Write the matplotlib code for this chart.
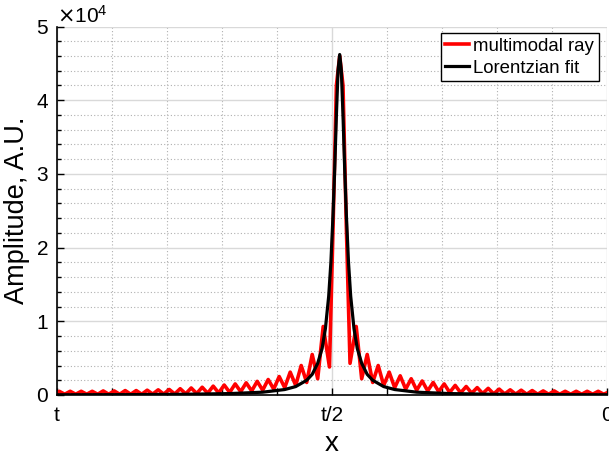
import matplotlib.pyplot as plt
from matplotlib.ticker import MultipleLocator

plt.rcParams['font.family'] = ['Liberation Sans', 'DejaVu Sans']

# x axis: 50 units from t (left) to 0 (right)
tick_pos = [0, 25, 50]
tick_labels = ['t', 't/2', '0']

# multimodal ray, amplitude in units of 1e4
ray_x = [0.0, 0.2, 0.7, 1.2, 1.7, 2.2, 2.7, 3.2, 3.7, 4.2, 4.7, 5.2, 5.7, 6.2, 6.7,
         7.2, 7.7, 8.2, 8.7, 9.2, 9.7, 10.2, 10.7, 11.2, 11.7, 12.2, 12.7, 13.2, 13.7,
         14.2, 14.7, 15.2, 15.7, 16.2, 16.7, 17.2, 17.7, 18.2, 18.7, 19.2, 19.7, 20.2,
         20.7, 21.2, 21.7, 22.2, 22.7, 23.2, 23.7, 24.2, 24.77, 25.1, 25.4, 25.7, 26.0,
         26.3, 26.64, 27.2, 27.7, 28.2, 28.7, 29.2, 29.7, 30.2, 30.7, 31.2, 31.7, 32.2,
         32.7, 33.2, 33.7, 34.2, 34.7, 35.2, 35.7, 36.2, 36.7, 37.2, 37.7, 38.2, 38.7,
         39.2, 39.7, 40.2, 40.7, 41.2, 41.7, 42.2, 42.7, 43.2, 43.7, 44.2, 44.7, 45.2,
         45.7, 46.2, 46.7, 47.2, 47.7, 48.2, 48.7, 49.2, 49.7, 50.0]
ray_y = [0.02, 0.05, 0.01, 0.05, 0.01, 0.05, 0.01, 0.05, 0.01, 0.055, 0.01, 0.055, 0.01,
         0.06, 0.01, 0.06, 0.01, 0.065, 0.012, 0.07, 0.012, 0.075, 0.014, 0.085, 0.016,
         0.095, 0.02, 0.105, 0.024, 0.12, 0.028, 0.135, 0.035, 0.15, 0.045, 0.165, 0.055,
         0.185, 0.065, 0.21, 0.08, 0.25, 0.10, 0.31, 0.13, 0.40, 0.17, 0.55, 0.22, 0.93,
         0.38, 2.3, 4.2, 4.6, 4.2, 2.3, 0.43, 0.93, 0.22, 0.55, 0.17, 0.40, 0.13, 0.31,
         0.10, 0.26, 0.08, 0.22, 0.065, 0.19, 0.055, 0.17, 0.045, 0.15, 0.035, 0.13, 0.03,
         0.115, 0.025, 0.10, 0.02, 0.09, 0.016, 0.08, 0.014, 0.07, 0.012, 0.065, 0.01,
         0.06, 0.01, 0.055, 0.01, 0.055, 0.01, 0.05, 0.01, 0.05, 0.01, 0.05, 0.01, 0.05,
         0.01, 0.03]

# Lorentzian fit, amplitude in units of 1e4
fit_x = [0.0, 6.7, 11.7, 15.7, 18.7, 20.7, 21.7, 22.7, 23.2, 23.7, 24.1, 24.4, 24.7,
         24.9, 25.1, 25.25, 25.4, 25.55, 25.7, 25.85, 26.0, 26.15, 26.3, 26.5, 26.7,
         27.0, 27.3, 27.7, 28.2, 28.7, 29.7, 30.7, 32.7, 35.7, 39.7, 44.7, 50.0]
fit_y = [0.003, 0.005, 0.01, 0.019, 0.038, 0.074, 0.114, 0.20, 0.28, 0.43, 0.63,
         0.90, 1.34, 1.80, 2.46, 3.09, 3.80, 4.40, 4.62, 4.40, 3.80, 3.09, 2.46, 1.80,
         1.34, 0.90, 0.63, 0.43, 0.28, 0.20, 0.114, 0.074, 0.038, 0.019, 0.01, 0.005,
         0.003]

fig = plt.figure(figsize=(6.09, 4.61), dpi=100)
ax = fig.add_axes([0.0936, 0.1432, 0.9031, 0.7993])

ax.plot(ray_x, [v * 1e4 for v in ray_y], color='#ff0000', lw=2.6,
        solid_joinstyle='round', label='multimodal ray')
ax.plot(fit_x, [v * 1e4 for v in fit_y], color='black', lw=2.3, label='Lorentzian fit')

ax.set_xlim(0, 50)
ax.set_ylim(0, 5e4)
ax.set_xticks(tick_pos)
ax.set_xticklabels(tick_labels)
ax.xaxis.set_minor_locator(MultipleLocator(5))
ax.yaxis.set_major_locator(MultipleLocator(1e4))
ax.yaxis.set_minor_locator(MultipleLocator(2e3))
ax.ticklabel_format(axis='y', style='sci', scilimits=(4, 4), useMathText=True)
ax.yaxis.get_offset_text().set_fontsize(15)

ax.grid(which='major', color='#d9d9d9', lw=1.0, ls='-')
ax.grid(which='minor', color='#b0b0b0', lw=0.8, ls=(0, (1, 2)))
ax.set_axisbelow(True)

for s in ['top', 'right']:
    ax.spines[s].set_visible(False)
ax.spines['left'].set_linewidth(1.2)
ax.spines['bottom'].set_linewidth(1.2)
ax.tick_params(which='both', direction='in', labelsize=15, width=1.0)
ax.tick_params(which='major', length=5)
ax.tick_params(axis='x', which='minor', length=5)
ax.tick_params(axis='x', which='major', pad=8)
ax.tick_params(axis='y', which='minor', length=3)
ax.tick_params(axis='y', which='major', pad=6)

ax.set_xlabel('x', fontsize=20, labelpad=4)
ax.set_ylabel('Amplitude, A.U.', fontsize=19.5, labelpad=4)

leg = ax.legend(loc='upper right', bbox_to_anchor=(0.985, 0.982), fontsize=13.4,
                frameon=True, fancybox=False, framealpha=1, edgecolor='black',
                handlelength=1.3, handletextpad=0.2, borderpad=0.25,
                labelspacing=0.25, borderaxespad=0.0)
leg.get_frame().set_linewidth(1.0)

fig.savefig('out.png', dpi=100)
